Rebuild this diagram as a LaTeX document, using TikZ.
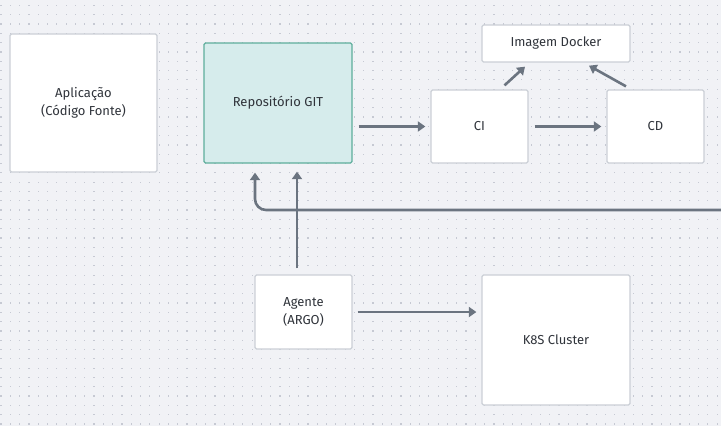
\documentclass[tikz,border=0pt]{standalone}
\usepackage{fontspec}
\setmainfont{Fira Sans}
\usetikzlibrary{arrows.meta,calc}
\definecolor{bgc}{HTML}{F1F2F6}
\definecolor{dotc}{HTML}{C6C9D3}
\definecolor{boxborder}{HTML}{CBCFD6}
\definecolor{tealfill}{HTML}{D6ECEC}
\definecolor{tealborder}{HTML}{5EAE9C}
\definecolor{arrowc}{HTML}{6B7480}
\definecolor{textc}{HTML}{30343B}
\tikzset{
  box/.style={draw=boxborder, line width=1.3pt, fill=white, rounded corners=1.5pt,
    inner sep=0pt, align=center, text=textc, font=\fontsize{13}{18}\selectfont},
  gitbox/.style={box, draw=tealborder, fill=tealfill},
  arr/.style={draw=arrowc, line width=2.6pt, -{Triangle[length=7.5pt,width=10pt]}},
}
\begin{document}
\begin{tikzpicture}[x=1pt,y=-1pt]
\fill[bgc] (0,0) rectangle (721,426);
\useasboundingbox (0,0) rectangle (721,426);
\foreach \i in {0,...,77}{
  \foreach \j in {0,...,45}{
    \fill[dotc] ({9.3*\i+0.4},{4.8+9.3*\j}) rectangle +(1.2,1.2);
  }
}
\node[box, minimum width=147pt, minimum height=138pt] (app) at (83.5,103) {Aplicação\\(Código Fonte)};
\node[gitbox, minimum width=148pt, minimum height=120pt] (git) at (278,103) {Repositório GIT};
\node[box, minimum width=97pt, minimum height=73pt] (ci) at (479.5,126.5) {CI};
\node[box, minimum width=97pt, minimum height=73pt] (cd) at (655.5,126.5) {CD};
\node[box, minimum width=148pt, minimum height=37pt] (docker) at (556,43.5) {Imagem Docker};
\node[box, minimum width=97pt, minimum height=74pt] (agent) at (303.5,312) {Agente\\(ARGO)};
\node[box, minimum width=148pt, minimum height=130pt] (k8s) at (556,340) {K8S Cluster};
\coordinate (fbstart) at (723,210);

\draw[arr, shorten <=6pt, shorten >=5pt] (git.east |- ci.west) -- (ci.west);
\draw[arr, shorten <=6pt, shorten >=5pt] (ci.east) -- (cd.west);
\draw[arr] ($(ci.north)+(25,-4)$) -- ($(docker.south)+(-31,4)$);
\draw[arr] ($(cd.north)+(-29.5,-3)$) -- ($(docker.south)+(33,3)$);
\draw[arr, shorten <=6pt, shorten >=8pt] ($(agent.north)+(-6.5,0)$) -- ($(git.south)+(19,0)$);
\draw[arr, shorten <=5pt, shorten >=5pt] (agent.east) -- (k8s.west |- agent.east);
\draw[arr, rounded corners=11pt, shorten >=9pt] (fbstart) -| ($(git.south)+(-23,0)$);
\end{tikzpicture}
\end{document}
